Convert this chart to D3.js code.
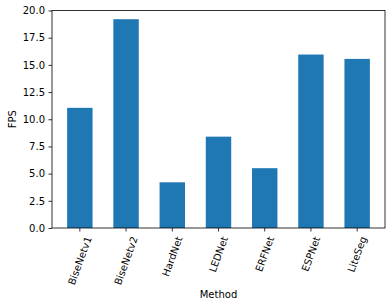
<!DOCTYPE html>
<html>
<head>
<meta charset="utf-8">
<script src="https://cdn.jsdelivr.net/npm/d3@7"></script>
<style>
  body { margin: 0; background: #fff; }
  svg { display: block; font-family: "DejaVu Sans", sans-serif; }
</style>
</head>
<body>
<div id="chart"></div>
<script>
// Data
const methods = ['BiseNetv1', 'BiseNetv2', 'HardNet', 'LEDNet', 'ERFNet', 'ESPNet', 'LiteSeg'];
const fps = [11.05, 19.2, 4.2, 8.4, 5.5, 15.95, 15.55];
const yTicks = [0, 2.5, 5, 7.5, 10, 12.5, 15, 17.5, 20];

const width = 392, height = 307;
const margin = { top: 10.5, right: 7, bottom: 79, left: 52 };
const plotW = width - margin.left - margin.right;
const plotH = height - margin.top - margin.bottom;

const svg = d3.select('#chart')
    .append('svg')
    .attr('width', width)
    .attr('height', height);

const g = svg.append('g')
    .attr('transform', `translate(${margin.left},${margin.top})`);

// Band scale with bar width 0.55 and matplotlib-like 5% margins
const x = d3.scaleBand()
    .domain(methods)
    .range([0, plotW])
    .paddingInner(0.45)
    .paddingOuter(0.3275);

const y = d3.scaleLinear()
    .domain([0, 20])
    .range([plotH, 0]);

// Bars
g.append('g')
    .selectAll('rect')
    .data(methods)
    .join('rect')
    .attr('x', d => x(d))
    .attr('y', (d, i) => y(fps[i]))
    .attr('width', x.bandwidth())
    .attr('height', (d, i) => y(0) - y(fps[i]))
    .attr('fill', '#1f77b4');

// Y axis
const yAxis = g.append('g')
    .call(d3.axisLeft(y).tickValues(yTicks).tickFormat(d3.format('.1f')).tickSizeOuter(0).tickSize(3.5).tickPadding(3.5));
yAxis.selectAll('text').attr('font-size', 10).attr('fill', '#000')
    .attr('font-family', '"DejaVu Sans", sans-serif');
yAxis.selectAll('line').attr('stroke', '#000').attr('stroke-width', 0.8);
yAxis.select('.domain').remove();

// X axis
const xAxis = g.append('g')
    .attr('transform', `translate(0,${plotH})`)
    .call(d3.axisBottom(x).tickSizeOuter(0).tickSize(3.5).tickFormat(''));
xAxis.selectAll('line').attr('stroke', '#000').attr('stroke-width', 0.8);
xAxis.select('.domain').remove();

// Rotated tick labels, bbox centered on tick
methods.forEach(m => {
    const cx = margin.left + x(m) + x.bandwidth() / 2;
    const lg = svg.append('g');
    const t = lg.append('text')
        .attr('font-size', 10)
        .attr('fill', '#000')
        .attr('text-anchor', 'end')
        .attr('dy', '0.35em')
        .attr('transform', 'rotate(-70)')
        .text(m);
    const bb = lg.node().getBBox();
    lg.attr('transform', `translate(${cx - (bb.x + bb.width / 2)},${margin.top + plotH + 7 - bb.y})`);
});

// Frame
g.append('rect')
    .attr('x', 0).attr('y', 0)
    .attr('width', plotW).attr('height', plotH)
    .attr('fill', 'none')
    .attr('stroke', '#000')
    .attr('stroke-width', 0.8);

// Axis labels
svg.append('text')
    .attr('transform', `translate(16,${margin.top + plotH / 2}) rotate(-90)`)
    .attr('text-anchor', 'middle')
    .attr('font-size', 10)
    .text('FPS');

svg.append('text')
    .attr('x', margin.left + plotW / 2)
    .attr('y', 297.5)
    .attr('text-anchor', 'middle')
    .attr('font-size', 10)
    .text('Method');
</script>
</body>
</html>
